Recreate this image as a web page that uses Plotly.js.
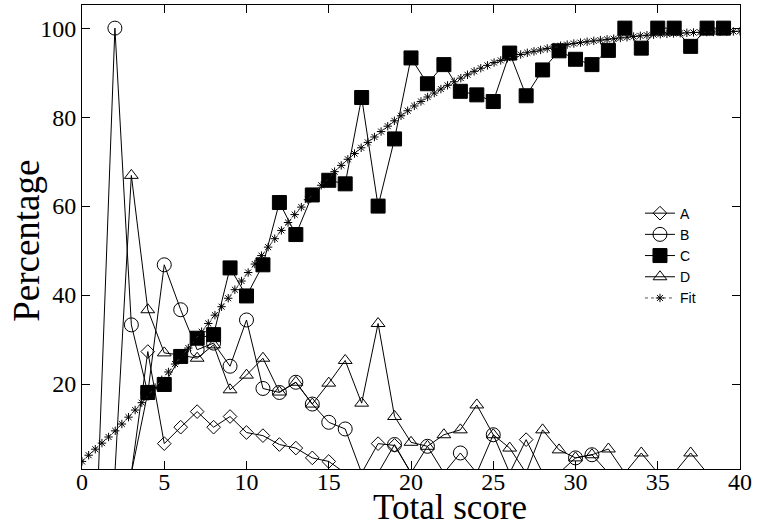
<!DOCTYPE html>
<html>
<head>
<meta charset="utf-8">
<script src="https://cdn.plot.ly/plotly-3.0.1.min.js"></script>
<style>
  html, body { margin: 0; padding: 0; background: #fff; }
  #chart { width: 758px; height: 528px; }
</style>
</head>
<body>
<div id="chart"></div>
<script>
// Total score (x) for series A-D
const scores = [0,1,2,3,4,5,6,7,8,9,10,11,12,13,14,15,16,17,18,19,20,
                21,22,23,24,25,26,27,28,29,30,31,32,33,34,35,36,37,38,39,40];

const seriesA = [0,0,0,0,27.3,6.6,10.3,13.8,10.3,12.7,9.1,8.4,6.4,5.6,3.4,2.6,0,0,6.6,6.2,0,
                 0,0,0,0,0,0,7.5,0,0,0,0,0,0,0,0,0,0,0,0,0];
const seriesB = [0,0,100,33.3,18,46.8,36.7,27.7,29.2,24,34.4,19,18.1,20.4,15.5,11.4,9.9,0,0,6.4,0,
                 6,0,4.5,0,8.6,0,0,0,0,3.4,4.1,0,0,0,0,0,0,0,0,0];
const seriesC = [null,null,null,0,18.1,19.9,26.2,30.3,31.1,46.1,39.8,46.8,60.8,53.6,62.5,65.8,65,84.4,60,75.1,93.3,
                 87.5,91.8,85.8,85,83.5,94.4,84.8,90.6,94.9,93,91.8,95,100,95.5,100,100,95.9,100,100,null];
const seriesD = [0,0,0,66.9,36.7,27,26.5,25.8,28.8,18.7,22,25.8,18.2,20.4,15.5,20.2,25.3,15.7,33.6,12.7,6.9,
                 6,8.6,9.7,15.3,8.6,5.6,0,9.7,5.2,3.4,4.1,5.4,0,4.5,0,0,4.5,0,0,0];

// Fit curve samples
const fitX = [0,0.404,0.808,1.212,1.616,2.020,2.424,2.828,3.232,3.636,4.040,4.444,4.848,5.253,5.657,6.061,6.465,6.869,7.273,7.677,
              8.081,8.485,8.889,9.293,9.697,10.101,10.505,10.909,11.313,11.717,12.121,12.525,12.929,13.333,13.737,14.141,14.545,14.949,15.354,15.758,
              16.162,16.566,16.970,17.374,17.778,18.182,18.586,18.990,19.394,19.798,20.202,20.606,21.010,21.414,21.818,22.222,22.626,23.030,23.434,23.838,
              24.242,24.646,25.051,25.455,25.859,26.263,26.667,27.071,27.475,27.879,28.283,28.687,29.091,29.495,29.899,30.303,30.707,31.111,31.515,31.919,
              32.323,32.727,33.131,33.535,33.939,34.343,34.747,35.152,35.556,35.960,36.364,36.768,37.172,37.576,37.980,38.384,38.788,39.192,39.596,40];
const fitY = [2.6,4.0,5.35,6.72,8.09,9.48,11.01,12.55,14.15,15.81,17.47,19.21,20.95,22.71,24.49,26.27,28.09,29.91,31.76,33.61,
              35.48,37.38,39.28,41.21,43.15,45.07,46.97,48.87,50.77,52.67,54.53,56.31,58.09,59.77,61.42,63.06,64.68,66.30,67.74,69.15,
              70.52,71.81,73.10,74.32,75.53,76.75,77.96,79.17,80.30,81.43,82.51,83.52,84.52,85.41,86.30,87.14,87.95,88.76,89.52,90.29,
              90.99,91.63,92.26,92.75,93.23,93.66,94.07,94.46,94.78,95.10,95.43,95.75,96.05,96.30,96.54,96.75,96.95,97.14,97.31,97.47,
              97.63,97.79,97.95,98.11,98.28,98.40,98.52,98.63,98.71,98.79,98.87,98.95,99.02,99.06,99.10,99.14,99.18,99.22,99.26,99.30];

const seriesNames = ['A','B','C','D','Fit'];
const xTicks = [0,5,10,15,20,25,30,35,40];
const yTicks = [20,40,60,80,100];
const xTitle = 'Total score';
const yTitle = 'Percentage';

const Y_MIN = 0.9, Y_MAX = 105.2;

// markers only for points inside the visible y range (gnuplot skips out-of-range points)
function inRange(arr) {
  const idx = [];
  arr.forEach((v, i) => { if (v !== null && v >= Y_MIN) idx.push(i); });
  return idx;
}

function series(name, y, symbol, size) {
  return {
    type: 'scatter', mode: 'lines+markers', name: name,
    x: scores, y: y, connectgaps: false,
    line: {color: '#000', width: 1},
    marker: {symbol: symbol, size: size, color: '#000', line: {color: '#000', width: 1}},
    selectedpoints: inRange(y),
    selected: {marker: {opacity: 1}},
    unselected: {marker: {opacity: 0}},
    cliponaxis: true
  };
}

const traces = [
  series(seriesNames[0], seriesA, 'diamond-open', 10.5),
  series(seriesNames[1], seriesB, 'circle-open', 14),
  series(seriesNames[2], seriesC, 'square', 14),
  series(seriesNames[3], seriesD, 'triangle-up-open', 12),
  {
    type: 'scatter', mode: 'lines+markers', name: seriesNames[4],
    x: fitX, y: fitY,
    line: {color: '#555', width: 1, dash: 'dot'},
    marker: {symbol: 'asterisk-open', size: 7, color: '#000', line: {color: '#000', width: 1}}
  }
];

const serif = 'Liberation Serif, Times New Roman, serif';

const layout = {
  width: 758, height: 528,
  margin: {l: 82, r: 18, t: 5, b: 59},
  paper_bgcolor: '#fff', plot_bgcolor: '#fff',
  showlegend: true,
  legend: {
    x: 0.848, y: 0.46, xanchor: 'left', yanchor: 'middle',
    bgcolor: 'rgba(0,0,0,0)', borderwidth: 0,
    font: {family: 'Liberation Sans, Arial, sans-serif', size: 14, color: '#000'},
    tracegroupgap: 0, itemwidth: 30
  },
  xaxis: {
    range: [0, 40], tickvals: xTicks, ticktext: xTicks.map(String),
    ticks: 'inside', ticklen: 8, tickwidth: 1, tickcolor: '#000',
    ticklabelstandoff: -9,
    showline: true, linecolor: '#000', linewidth: 1, mirror: 'ticks',
    showgrid: false, zeroline: false,
    tickfont: {family: serif, size: 24, color: '#000'}
  },
  yaxis: {
    range: [Y_MIN, Y_MAX], tickvals: yTicks, ticktext: yTicks.map(String),
    ticks: 'inside', ticklen: 8, tickwidth: 1, tickcolor: '#000',
    showline: true, linecolor: '#000', linewidth: 1, mirror: 'ticks',
    showgrid: false, zeroline: false,
    tickfont: {family: serif, size: 24, color: '#000'}
  },
  annotations: [
    {text: xTitle, xref: 'paper', yref: 'paper', x: 0.559, y: -0.083,
     xanchor: 'center', yanchor: 'middle', showarrow: false,
     font: {family: serif, size: 35, color: '#000'}},
    {text: yTitle, xref: 'paper', yref: 'paper', x: -0.0836, y: 0.4917,
     xanchor: 'center', yanchor: 'middle', showarrow: false, textangle: -90,
     font: {family: serif, size: 37, color: '#000'}}
  ]
};

Plotly.newPlot('chart', traces, layout, {displayModeBar: false, staticPlot: true});
</script>
</body>
</html>
